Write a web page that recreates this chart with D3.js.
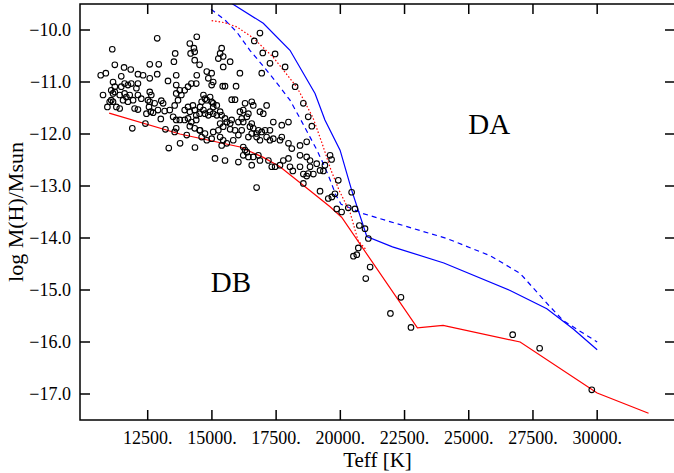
<!DOCTYPE html>
<html><head><meta charset="utf-8">
<script src="https://cdn.jsdelivr.net/npm/d3@7"></script>
<style>body{margin:0;background:#fff}svg{display:block}</style>
</head><body>
<svg id="c" width="674" height="473"></svg>
<script>
const xTicks = [12500, 15000, 17500, 20000, 22500, 25000, 27500, 30000];
const yTicks = [-10, -11, -12, -13, -14, -15, -16, -17];

// observed DB stars [Teff, log M(H)/Msun]
const observed = [
[12870,-10.16],[14410,-10.13],[14140,-10.26],[14300,-10.35],[14330,-10.42],[14170,-10.45],
[15380,-10.35],[15320,-10.45],[15440,-10.51],[15250,-10.55],[16870,-10.06],[16650,-10.21],[16980,-10.44],[17460,-10.46],
[15440,-10.71],[15710,-10.61],[17260,-10.64],[17850,-10.71],[16940,-10.83],[18240,-11.09],
[11120,-10.37],[13570,-10.45],[14330,-10.58],[14520,-10.67],[13520,-10.61],[12580,-10.66],[12930,-10.66],
[11220,-10.67],[11580,-10.72],[11840,-10.76],[10670,-10.87],[10870,-10.83],[11470,-10.89],[12120,-10.85],[12320,-10.87],
[12580,-10.93],[12870,-10.85],[13610,-10.87],[13290,-10.98],[13610,-11.06],[14410,-10.87],
[11600,-11.03],[11470,-11.09],[11730,-11.06],[11860,-11.03],[12120,-11.03],[12060,-11.12],
[11150,-11.00],[11220,-11.09],[11080,-11.16],[11220,-11.19],[11150,-11.22],[10760,-11.25],
[11410,-11.25],[11600,-11.22],[11670,-11.29],[11800,-11.25],[11540,-11.35],[11730,-11.38],[11930,-11.35],
[12120,-11.25],[12250,-11.32],[11080,-11.35],[11020,-11.38],[11150,-11.38],[10930,-11.48],[11280,-11.48],[11410,-11.51],
[11990,-11.51],[12120,-11.53],
[12580,-11.19],[12640,-11.25],[12510,-11.35],[12580,-11.38],[12770,-11.41],[13030,-11.36],[13100,-11.41],
[12550,-11.48],[12620,-11.57],[12450,-11.61],[12710,-11.59],[12900,-11.54],[13160,-11.56],[13010,-11.71],
[13360,-11.54],[13550,-11.45],[13680,-11.35],[13610,-11.22],[13810,-11.25],[13750,-11.16],[13940,-11.16],[14070,-11.09],[14200,-11.03],[14390,-11.03],
[13490,-11.67],[13610,-11.73],[13750,-11.73],[13940,-11.73],[14070,-11.70],[14140,-11.57],[13940,-11.54],[14070,-11.48],[14260,-11.45],[14330,-11.54],[14390,-11.64],[14520,-11.61],
[13610,-11.89],[13550,-11.96],[14140,-11.85],[14330,-11.89],[14520,-11.93],[14200,-11.77],[14390,-11.73],
[12410,-11.80],[11900,-11.89],[13190,-11.91],[14020,-12.02],[14340,-12.26],[13320,-12.27],[13760,-12.18],
[14800,-10.80],[14990,-10.83],[14860,-10.93],[15050,-11.00],[14990,-11.06],[15420,-11.08],[15510,-11.08],[15940,-11.08],[16090,-10.83],
[14670,-11.25],[14730,-11.32],[14600,-11.38],[14800,-11.35],[14930,-11.29],[14990,-11.38],[15050,-11.41],[15050,-11.48],[15190,-11.45],
[15770,-11.34],[15900,-11.34],[16290,-11.41],[16550,-11.38],[16610,-11.45],[17130,-11.45],
[14540,-11.48],[14670,-11.54],[14730,-11.61],[14860,-11.64],[14930,-11.57],[15050,-11.61],[15190,-11.64],[15320,-11.57],[15380,-11.64],
[15510,-11.70],[15580,-11.77],[15710,-11.80],[15770,-11.73],[15320,-11.80],[15440,-11.86],
[16090,-11.57],[16220,-11.54],[16420,-11.61],[16360,-11.67],[16160,-11.70],[16030,-11.77],[16870,-11.57],[17000,-11.61],
[16220,-11.77],[16550,-11.80],[16480,-11.86],[16610,-11.89],[16810,-11.93],[16740,-11.99],[16940,-11.96],[17070,-11.93],[17260,-11.93],
[17390,-11.77],[17720,-11.83],[17980,-11.77],
[14540,-11.93],[14730,-11.99],[14600,-12.06],[15050,-11.96],[15250,-11.93],[14990,-12.09],[15320,-12.06],[15440,-12.12],[15380,-12.22],
[15580,-12.18],[15830,-12.12],[16030,-12.02],[16160,-11.93],[15900,-11.93],[15710,-11.91],
[16420,-12.06],[16550,-11.99],[16740,-12.06],[16870,-12.12],[17130,-12.06],[17260,-12.12],[17390,-12.09],[17650,-12.12],[17720,-12.06],
[17980,-12.18],[18110,-12.28],[18430,-12.22],[18690,-12.15],[14800,-12.12],
[16220,-12.25],[16290,-12.31],[16360,-12.35],[16220,-12.41],[16420,-12.44],[16610,-12.44],[16810,-12.41],[16870,-12.51],
[17200,-12.51],[17330,-12.63],[17460,-12.63],[17650,-12.60],[17780,-12.51],[17980,-12.47],[18430,-12.41],[18690,-12.44],[18820,-12.51],
[15120,-12.47],[16030,-12.54],[16550,-12.60],[18040,-12.63],[18430,-12.63],[18820,-12.63],[15510,-12.51],
[18560,-11.41],[18750,-11.67],[18890,-11.85],
[18560,-12.77],[18690,-12.81],[18750,-12.76],[18950,-12.77],[19080,-12.57],[19210,-12.70],[19340,-12.71],[19400,-12.60],[19600,-12.41],[19660,-12.49],[18150,-12.71],
[16740,-13.03],[18560,-12.95],[19210,-13.10],[19670,-13.21],[19530,-13.24],[19790,-13.15],[19920,-12.89],[19860,-13.44],[20050,-13.50],
[20310,-13.42],[20570,-13.44],[20440,-13.12],[20740,-13.76],[20960,-13.82],[21090,-14.01],[20700,-14.19],[20640,-14.32],[20510,-14.35],
[21160,-14.56],[20990,-14.78],[22360,-15.14],[21950,-15.45],[22750,-15.72],[26710,-15.86],[27760,-16.12],[29790,-16.92]
];

// model sequences [Teff, log M(H)/Msun]
const daSolid = [[15000,-9.25],[17000,-9.87],[18040,-10.39],[19015,-11.22],[19400,-11.73],[19990,-12.31],[20440,-13.08],[21030,-13.97],[22030,-14.17],[24030,-14.48],[26610,-15.01],[28040,-15.36],[29070,-15.75],[30000,-16.15]];
const daDashed = [[14965,-9.60],[15510,-9.81],[15970,-10.04],[16480,-10.39],[16990,-10.69],[17530,-11.02],[18040,-11.35],[18430,-11.70],[18820,-12.06],[19090,-12.31],[19400,-12.64],[19640,-12.93],[19830,-13.18],[20030,-13.35],[20880,-13.53],[24150,-14.01],[25830,-14.34],[27000,-14.68],[28050,-15.26],[28680,-15.59],[30000,-16.00]];
const dbSolid = [[11000,-11.60],[13750,-12.00],[16100,-12.25],[17000,-12.45],[17650,-12.63],[18800,-13.08],[19600,-13.40],[20050,-13.60],[23000,-15.73],[24000,-15.68],[27000,-16.00],[30000,-16.98],[32000,-17.37]];
const dbDotted = [[14990,-9.82],[15510,-9.86],[15970,-9.94],[16600,-10.15],[17380,-10.52],[18310,-11.10],[18930,-11.68],[19290,-12.18],[19640,-12.70],[19950,-13.08],[20380,-13.51],[20690,-14.05],[21030,-14.24]];

const regionLabels = [{t:"DA", teff:25800, logm:-12.0},{t:"DB", teff:15740, logm:-15.03}];

const FONT = "'Liberation Serif','Times New Roman',serif";
const svg = d3.select("#c");
const L = 80, R = 675, T = 4, B = 420;
const x = d3.scaleLinear().domain([9864, 33030]).range([L, R]);
const y = d3.scaleLinear().domain([-17.5, -9.5]).range([B, T]);

svg.append("rect").attr("width",674).attr("height",473).attr("fill","#fff");
svg.append("defs").append("clipPath").attr("id","clip")
  .append("rect").attr("x",L).attr("y",T).attr("width",R-L).attr("height",B-T);

const g = svg.append("g").attr("clip-path","url(#clip)");
const line = d3.line().x(d=>x(d[0])).y(d=>y(d[1]));

g.append("path").datum(daSolid).attr("d",line).attr("fill","none").attr("stroke","#0000ff").attr("stroke-width",1.2);
g.append("path").datum(daDashed).attr("d",line).attr("fill","none").attr("stroke","#0000ff").attr("stroke-width",1.2).attr("stroke-dasharray","5,4");
g.append("path").datum(dbSolid).attr("d",line).attr("fill","none").attr("stroke","#ff0000").attr("stroke-width",1.2);
g.append("path").datum(dbDotted).attr("d",line).attr("fill","none").attr("stroke","#ff0000").attr("stroke-width",1.2).attr("stroke-dasharray","1.5,2");

g.selectAll("circle.obs").data(observed).join("circle").attr("class","obs")
  .attr("cx",d=>x(d[0])).attr("cy",d=>y(d[1])).attr("r",2.8)
  .attr("fill","none").attr("stroke","#000").attr("stroke-width",1.1);

// frame
svg.append("rect").attr("x",L).attr("y",T).attr("width",R-L).attr("height",B-T)
  .attr("fill","none").attr("stroke","#000").attr("stroke-width",1.5);

// ticks (inward, on all four sides)
const tk = svg.append("g").attr("stroke","#000").attr("stroke-width",1.5);
xTicks.forEach(v=>{
  tk.append("line").attr("x1",x(v)).attr("x2",x(v)).attr("y1",B).attr("y2",B-10);
  tk.append("line").attr("x1",x(v)).attr("x2",x(v)).attr("y1",T).attr("y2",T+10);
});
yTicks.forEach(v=>{
  tk.append("line").attr("x1",L).attr("x2",L+10).attr("y1",y(v)).attr("y2",y(v));
  tk.append("line").attr("x1",R).attr("x2",R-10).attr("y1",y(v)).attr("y2",y(v));
});

svg.selectAll("text.xt").data(xTicks).join("text").attr("class","xt")
  .attr("x",d=>x(d)).attr("y",B+24).attr("text-anchor","middle")
  .attr("font-family",FONT).attr("font-size",18).text(d=>d+".");
svg.selectAll("text.yt").data(yTicks).join("text").attr("class","yt")
  .attr("x",L-9).attr("y",d=>y(d)).attr("dy","0.33em").attr("text-anchor","end")
  .attr("font-family",FONT).attr("font-size",18).text(d=>d3.format(".1f")(d));

svg.append("text").attr("x",(L+R)/2).attr("y",467).attr("text-anchor","middle")
  .attr("font-family",FONT).attr("font-size",21).text("Teff [K]");
svg.append("text").attr("transform",`translate(23,${(T+B)/2}) rotate(-90)`).attr("text-anchor","middle")
  .attr("font-family",FONT).attr("font-size",22).text("log M(H)/Msun");

svg.selectAll("text.reg").data(regionLabels).join("text").attr("class","reg")
  .attr("x",d=>x(d.teff)).attr("y",d=>y(d.logm)).attr("text-anchor","middle")
  .attr("font-family",FONT).attr("font-size",29).text(d=>d.t);
</script>
</body></html>
